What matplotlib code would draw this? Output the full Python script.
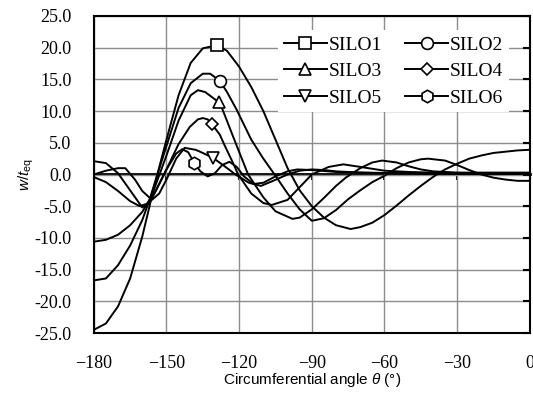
import matplotlib.pyplot as plt
import numpy as np

plt.rcParams['mathtext.fontset'] = 'custom'
plt.rcParams['mathtext.rm'] = 'Liberation Sans'
plt.rcParams['mathtext.it'] = 'Liberation Sans:italic'

# values (theta in degrees, w/t_eq)
th1 = [-180, -175, -170, -165, -160, -157, -155, -150, -145, -140, -135, -129, -125, -120, -115, -110, -105, -100, -95, -90, -85, -80, -74, -70, -65, -60, -55, -50, -45, -40, -35, -30, -25, -20, -15, -10, -5, 0]
w1 = [-24.5, -23.5, -20.8, -16.4, -9.8, -5.0, -1.8, 5.5, 12.5, 17.6, 19.9, 20.4, 19.5, 17.0, 13.8, 10.0, 5.5, 1.0, -2.5, -5.0, -6.8, -8.0, -8.6, -8.3, -7.6, -6.4, -4.9, -3.3, -1.8, -0.4, 0.8, 1.7, 2.5, 3.0, 3.4, 3.6, 3.8, 3.9]
mk1 = -129

th2 = [-180, -175, -170, -165, -160, -157, -155, -150, -145, -140, -135, -132, -128, -125, -121, -115, -110, -105, -100, -95, -90, -85, -80, -75, -70, -65, -60, -55, -50, -45, -42, -35, -30, -25, -20, -15, -10, -5, 0]
w2 = [-16.7, -16.4, -14.3, -11.2, -7.2, -4.0, -1.5, 4.5, 10.5, 14.4, 15.9, 15.9, 14.8, 13.0, 10.2, 5.5, 2.5, -0.2, -3.0, -5.5, -7.3, -6.9, -5.6, -3.9, -2.5, -1.2, -0.2, 1.0, 1.9, 2.4, 2.5, 2.2, 1.5, 0.7, 0.0, -0.5, -0.8, -1.0, -1.0]
mk2 = -128

th3 = [-180, -175, -170, -165, -160, -157, -155, -150, -145, -140, -137, -134, -128.4, -126.8, -122, -116.3, -110, -105, -98, -95, -90, -85, -80, -76, -70, -65, -61, -55, -50, -45, -40, -30, -20, -10, 0]
w3 = [-10.6, -10.3, -9.5, -8.0, -5.9, -4.0, -2.2, 3.0, 8.5, 12.5, 13.3, 13.0, 11.4, 10.2, 5.5, 0.0, -3.6, -5.8, -7.0, -6.8, -5.5, -3.7, -1.8, -0.5, 1.0, 1.9, 2.2, 1.9, 1.3, 0.8, 0.5, 0.3, 0.3, 0.3, 0.3]
mk3 = -128.4

th4 = [-180, -175, -170, -165, -161, -158, -155, -150, -145, -140.4, -137, -135, -133, -131.4, -128, -126, -123, -120.4, -115, -110, -106.5, -100, -95, -90, -83, -77, -70, -60, -50, -40, -20, 0]
w4 = [-0.4, -1.2, -2.6, -4.2, -5.0, -4.6, -3.0, 0.8, 4.8, 7.5, 8.7, 8.9, 8.7, 8.0, 6.3, 4.6, 2.2, 0.0, -3.0, -4.5, -4.8, -4.0, -2.0, 0.0, 1.2, 1.6, 1.2, 0.6, 0.4, 0.3, 0.2, 0.2]
mk4 = -131.4

th5 = [-180, -175, -170, -167, -163, -160, -156, -153, -150, -146, -142.5, -138, -135, -130.7, -126, -121.5, -116, -111, -106, -100, -95, -90, -85, -80, -70, -50, -30, 0]
w5 = [0.0, 0.6, 1.0, 1.0, -0.8, -2.6, -4.0, -3.0, -0.8, 2.5, 4.2, 3.9, 3.4, 2.6, 1.3, 0.0, -1.3, -1.8, -1.0, 0.0, 0.6, 0.8, 0.7, 0.5, 0.3, 0.2, 0.1, 0.1]
mk5 = -130.7

th6 = [-180, -175, -170, -165, -160, -157, -153, -150, -146, -143.5, -141, -138.5, -136, -133, -130, -127, -124, -121, -118, -114, -110, -105, -100, -96, -90, -80, -60, -30, 0]
w6 = [2.1, 1.8, 0.2, -2.5, -5.2, -4.5, -1.5, 0.8, 3.3, 4.0, 3.5, 1.8, 0.5, -0.3, 0.2, 1.5, 2.0, 1.2, -0.3, -1.5, -1.3, -0.3, 0.5, 0.8, 0.7, 0.4, 0.2, 0.1, 0.1]
mk6 = -138.5

series = [
    ("SILO1", th1, w1, mk1, "s", 9),
    ("SILO2", th2, w2, mk2, "o", 8.5),
    ("SILO3", th3, w3, mk3, "^", 8.5),
    ("SILO4", th4, w4, mk4, "D", 6),
    ("SILO5", th5, w5, mk5, "v", 8.5),
    ("SILO6", th6, w6, mk6, "h", 9),
]

fig = plt.figure(figsize=(5.33, 4.0), dpi=100)
ax = fig.add_axes([0.176, 0.1675, 0.818, 0.7925])

lines = []
for name, th, w, mk, m, ms in series:
    ln, = ax.plot(th, w, color="black", lw=1.4, marker=m, markevery=[th.index(mk)],
                  markersize=ms, markerfacecolor="white", markeredgecolor="black",
                  markeredgewidth=1.2, label=name, zorder=3)
    lines.append(ln)

ax.set_xlim(-180, 0)
ax.set_ylim(-25, 25)
ax.set_xticks(np.arange(-180, 1, 30))
ax.set_yticks(np.arange(-25, 26, 5))
ax.set_yticklabels([f"{v:.1f}" for v in np.arange(-25, 26, 5)])
ax.grid(True, color="#8c8c8c", lw=1.0)
ax.set_axisbelow(True)

for s in ax.spines.values():
    s.set_linewidth(1.5)
    s.set_color("black")

ax.tick_params(axis="x", length=0, pad=16)
ax.tick_params(axis="y", left=False, right=True, labelleft=True, labelright=False,
               direction="in", length=5, width=1.5, pad=16)
for lab in ax.get_xticklabels() + ax.get_yticklabels():
    lab.set_fontfamily("Liberation Serif")
    lab.set_fontsize(13)

# x axis line crossing at zero, ticks pointing down
sec = ax.secondary_xaxis(0.5)
sec.set_xticks(np.arange(-180, 1, 30))
sec.tick_params(axis="x", which="both", direction="in", length=4, width=1.5,
                labeltop=False, labelbottom=False)
sec.spines["top"].set_linewidth(2)

ax.set_xlabel(r"Circumferential angle $\theta$ (°)", fontfamily="Liberation Sans",
              fontsize=11, labelpad=-1)
ax.set_ylabel(r"$w/t_{\mathrm{eq}}$", fontfamily="Liberation Sans", fontsize=11)
ax.yaxis.set_label_coords(-0.133, 0.5)

order = [0, 2, 4, 1, 3, 5]
leg = ax.legend([lines[i] for i in order], [series[i][0] for i in order],
                ncol=2, loc="upper right", bbox_to_anchor=(0.975, 0.985),
                prop={"family": "Liberation Serif", "size": 14},
                frameon=True, fancybox=False, framealpha=1, edgecolor="white",
                handlelength=2.2, handletextpad=0.1, columnspacing=1.2,
                labelspacing=0.45, borderpad=0.3)
leg.get_frame().set_linewidth(0)

fig.savefig("out.png", dpi=100)
